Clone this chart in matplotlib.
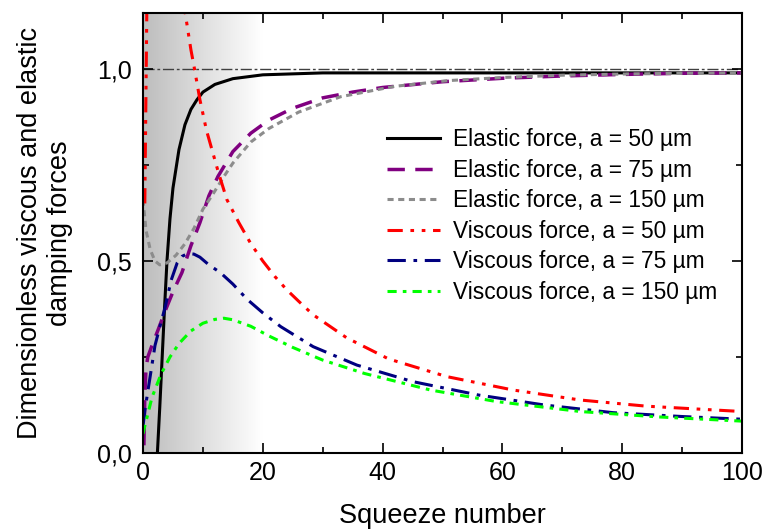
import numpy as np
import matplotlib
matplotlib.use("Agg")
import matplotlib.pyplot as plt
from matplotlib.ticker import FixedLocator, FixedFormatter, MultipleLocator

plt.rcParams['font.family'] = ['Liberation Sans', 'DejaVu Sans']

# squeeze number / dimensionless force curves
x_el50 = [2.4, 2.8, 3.2, 3.6, 4.0, 4.5, 5, 6, 7, 8, 9, 10, 12, 15, 20, 30, 50, 100]
y_el50 = [0.0, 0.12, 0.25, 0.38, 0.5, 0.61, 0.69, 0.79, 0.855, 0.895, 0.92, 0.94,
          0.96, 0.975, 0.985, 0.99, 0.99, 0.99]

x_el75 = [0.15, 0.3, 0.5, 0.8, 1.5, 2.5, 3.7, 5, 6.5, 8, 9.5, 11, 12.5, 15, 18, 21,
          25, 30, 35, 40, 50, 60, 70, 80, 90, 100]
y_el75 = [0.02, 0.15, 0.22, 0.25, 0.28, 0.32, 0.37, 0.42, 0.47, 0.54, 0.6, 0.67,
          0.72, 0.785, 0.833, 0.867, 0.898, 0.925, 0.94, 0.952, 0.967, 0.976, 0.982,
          0.986, 0.989, 0.99]

x_el150 = [0, 0.5, 1.2, 2, 2.8, 4, 5.5, 7, 8.5, 10, 11.7, 13.5, 15, 18, 21, 26, 33,
           42, 51, 60, 70, 80, 90, 100]
y_el150 = [0.66, 0.58, 0.53, 0.5, 0.49, 0.495, 0.515, 0.545, 0.585, 0.635, 0.675,
           0.72, 0.755, 0.81, 0.845, 0.888, 0.928, 0.955, 0.97, 0.978, 0.984, 0.987,
           0.989, 0.99]

x_vi50 = [0.3, 0.4, 0.5, 0.6, 0.7, 2, 4, 6, 7, 8, 8.6, 9.5, 10.6, 12.6, 14, 16, 18,
          20, 22, 24, 26, 28.4, 34, 41, 50.7, 61.8, 73, 84, 100]
y_vi50 = [0.65, 0.8, 0.95, 1.1, 1.25, 1.9, 1.6, 1.28, 1.15, 1.05, 1.0, 0.92, 0.84,
          0.73, 0.66, 0.6, 0.545, 0.5, 0.46, 0.425, 0.395, 0.36, 0.3, 0.245, 0.199,
          0.164, 0.138, 0.122, 0.108]

x_vi75 = [0, 0.3, 1.2, 2, 3, 3.7, 4.7, 5.7, 6.5, 7.5, 8.5, 9.5, 11, 12.9, 15, 17.4,
          20, 23, 28.4, 35.7, 45, 56, 67, 78.5, 90, 100]
y_vi75 = [0.07, 0.11, 0.2, 0.28, 0.34, 0.38, 0.45, 0.495, 0.512, 0.52, 0.518, 0.51,
          0.49, 0.47, 0.44, 0.4, 0.365, 0.329, 0.277, 0.229, 0.186, 0.151, 0.125,
          0.105, 0.095, 0.088]

x_vi150 = [0, 0.3, 1.5, 3, 4.5, 6, 8, 10, 12, 13.5, 15, 18, 21, 25, 30, 37, 48, 59,
           73, 86, 100]
y_vi150 = [0.05, 0.07, 0.145, 0.205, 0.25, 0.285, 0.318, 0.338, 0.348, 0.351, 0.347,
           0.33, 0.305, 0.275, 0.242, 0.207, 0.164, 0.134, 0.108, 0.094, 0.083]

labels = ["Elastic force, a = 50 µm", "Elastic force, a = 75 µm",
          "Elastic force, a = 150 µm", "Viscous force, a = 50 µm",
          "Viscous force, a = 75 µm", "Viscous force, a = 150 µm"]

ytick_vals = [0.0, 0.5, 1.0]
ytick_labels = ["0,0", "0,5", "1,0"]

xmax = 100
ymax = 1.146
shade_end = 20

fig = plt.figure(figsize=(7.66, 5.31), dpi=100)
ax = fig.add_axes([0.1867, 0.1469, 0.782, 0.8286])

# gray shading over the low squeeze-number region
grad = np.linspace(0.74, 1.0, 256).reshape(1, -1)
ax.imshow(grad, extent=[0, shade_end, 0, ymax], aspect='auto', cmap='gray',
          vmin=0, vmax=1, zorder=0, interpolation='bicubic')

ax.axhline(1.0, color='#404040', lw=1, ls=(0, (8, 2, 2, 2)), zorder=1)

lw = 2.2
ax.plot(x_el50, y_el50, color='black', lw=lw, ls='-', label=labels[0])
ax.plot(x_el75, y_el75, color='#800080', lw=lw + 0.3, ls=(0, (5, 3)), label=labels[1])
ax.plot(x_el150, y_el150, color='#8c8c8c', lw=lw, ls=(0, (2, 1.5)), label=labels[2])
ax.plot(x_vi50, y_vi50, color='red', lw=lw, ls=(0, (5, 2.5, 1.2, 2.5, 1.2, 2.5)),
        label=labels[3])
ax.plot(x_vi75, y_vi75, color='#000080', lw=lw, ls=(0, (6, 2.5, 1.2, 2.5)),
        label=labels[4])
ax.plot(x_vi150, y_vi150, color='#00ff00', lw=lw, ls=(0, (3, 2, 1.2, 2)),
        label=labels[5])

ax.set_xlim(0, xmax)
ax.set_ylim(0, ymax)

ax.xaxis.set_major_locator(MultipleLocator(20))
ax.xaxis.set_minor_locator(MultipleLocator(10))
ax.yaxis.set_major_locator(FixedLocator(ytick_vals))
ax.yaxis.set_major_formatter(FixedFormatter(ytick_labels))
ax.yaxis.set_minor_locator(MultipleLocator(0.25))

ax.tick_params(which='both', direction='in', top=True, right=True, width=1.2)
ax.tick_params(which='major', length=7, labelsize=18)
ax.tick_params(which='minor', length=4)
ax.tick_params(axis='y', pad=8)
ax.tick_params(axis='x', pad=6)
for s in ax.spines.values():
    s.set_linewidth(1.5)

ax.set_xlabel("Squeeze number", fontsize=19.5, labelpad=13)
ax.set_ylabel("Dimensionless viscous and elastic\ndamping forces", fontsize=19.5,
              labelpad=17)

ax.legend(loc='upper left', bbox_to_anchor=(376 / 766, 1 - 117 / 531),
          bbox_transform=fig.transFigure, frameon=False, fontsize=16.4,
          borderpad=0, handlelength=2.3, handletextpad=0.6, labelspacing=0.33)

fig.savefig("out.png", dpi=100)
